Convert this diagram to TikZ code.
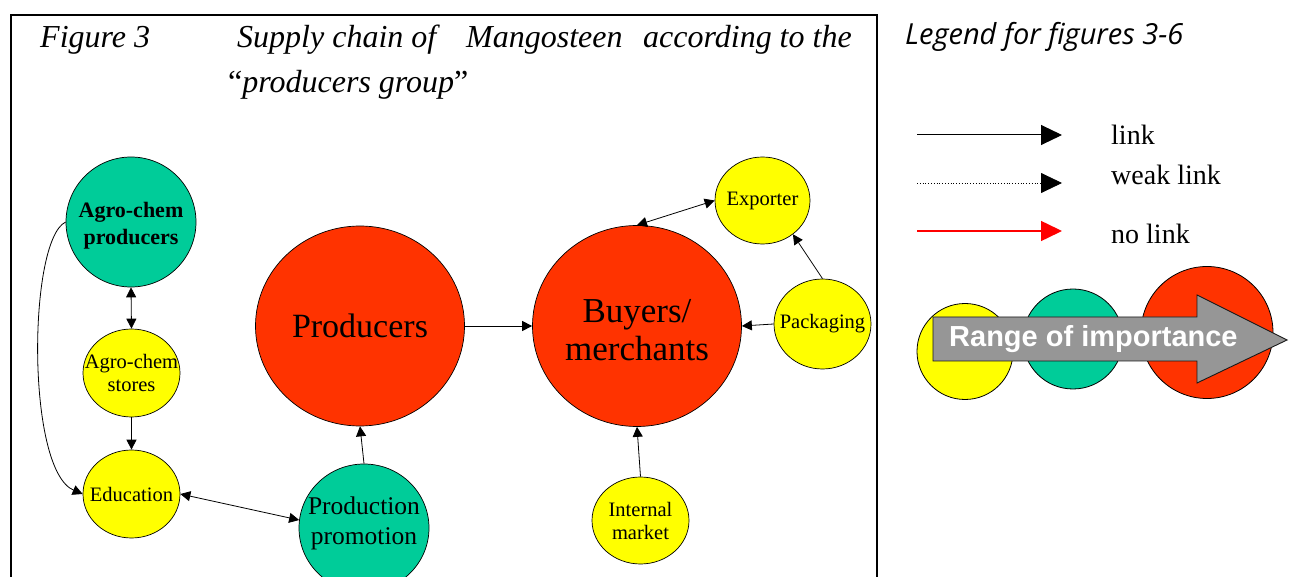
\documentclass[tikz,border=0pt]{standalone}
\usepackage{fontspec}
\setmainfont{Liberation Serif}
\newfontfamily\legendfont{Open Sans}
\newfontfamily\arialfont{Liberation Sans}
\usetikzlibrary{shapes.geometric,arrows.meta}

\definecolor{cred}{HTML}{FF3300}
\definecolor{cgreen}{HTML}{00CC99}
\definecolor{cyellow}{HTML}{FFFF00}
\definecolor{cgray}{HTML}{969696}

\tikzset{
  blob/.style={ellipse, draw=black, line width=0.7pt, inner sep=0pt, text=black},
  inner/.style={align=center, inner sep=0pt, text=black},
  smallblob/.style={blob, fill=cyellow, minimum width=97pt, minimum height=88pt},
  smalltext/.style={inner, font=\fontsize{20.5}{23}\selectfont},
  link/.style={line width=0.8pt, -{Triangle[length=10pt,width=10pt]}},
  twolink/.style={line width=0.8pt, {Triangle[length=10pt,width=10pt]}-{Triangle[length=10pt,width=10pt]}},
  titletext/.style={anchor=base west, inner sep=0pt, font=\fontsize{32}{36}\selectfont\itshape},
  legtext/.style={anchor=base west, inner sep=0pt, font=\fontsize{28}{32}\selectfont},
  legarrow/.style={line width=1pt, -{Triangle[length=21pt,width=20pt]}},
}

\begin{document}
\begin{tikzpicture}[x=1pt,y=-1pt]
\useasboundingbox (0,0) rectangle (1294,577);
\fill[white] (0,0) rectangle (1294,577);

% frame around the chart (open at the bottom)
\draw[line width=2pt] (11,577) -- (11,15.5) -- (877,15.5) -- (877,577);

% caption
\node[titletext] (t1) at (40,48) {Figure 3};
\node[titletext] (t2) at (237,48) {Supply chain of};
\node[titletext] (t3) at (466,48) {Mangosteen};
\node[titletext] (t4) at (643,48) {according to the};
\node[titletext] (t5) at (228,93) {{\upshape “}producers group{\upshape ”}};

% actors (the shapes keep their own size; the text sits on top as a label)
\node[blob, fill=cgreen, minimum width=130pt, minimum height=130pt,
      label={[inner, font=\fontsize{22}{27}\selectfont\bfseries, yshift=-4pt]center:Agro-chem\\producers}] (ap) at (131,222) {};
\node[smallblob, label={[smalltext]center:Agro-chem\\stores}] (st) at (131.5,373) {};
\node[smallblob, label={[smalltext]center:Education}] (edu) at (131.5,494) {};
\node[blob, fill=cgreen, minimum width=130pt, minimum height=128pt,
      label={[inner, font=\fontsize{25.5}{30}\selectfont, yshift=5pt]center:Production\\promotion}] (prom) at (364,528) {};
\node[blob, fill=cred, minimum width=209pt, minimum height=200pt,
      label={[inner, font=\fontsize{34}{38}\selectfont]center:Producers}] (prod) at (360,326) {};
\node[blob, fill=cred, minimum width=209pt, minimum height=201pt,
      label={[inner, font=\fontsize{35}{38}\selectfont, yshift=-4pt]center:Buyers/\\merchants}] (buy) at (637,326) {};
\node[smallblob, minimum width=95pt, minimum height=87pt,
      label={[smalltext]center:Exporter}] (exp) at (762.5,200.5) {};
\node[smallblob, minimum height=90pt, label={[smalltext]center:Packaging}] (pack) at (822.5,324) {};
\node[smallblob, minimum height=87pt, label={[smalltext]center:Internal\\market}] (int) at (640.5,520.5) {};

% links
\draw[twolink] (ap.south) -- (st.north);
\draw[link] (st.south) -- (edu.north);
\draw[link] (ap.west) .. controls (28,240) and (26,470) .. (edu.west);
\draw[twolink] (edu.east) -- (prom.173);
\draw[link] (prom.north) -- (prod.south);
\draw[link] (prod.east) -- (buy.west);
\draw[twolink] (buy.north) -- (exp.west);
\draw[link] (pack.north) -- (exp.-48);
\draw[link] (pack.west) -- (buy.east);
\draw[link] (int.north) -- (buy.south);

% legend
\node[anchor=base west, inner sep=0pt, font=\fontsize{29}{32}\selectfont\legendfont\itshape]
  (lt) at (905,45) {Legend for figures 3-6};

\coordinate (l1a) at (917,135);   \coordinate (l1b) at (1062,135);
\coordinate (l2a) at (917,183);   \coordinate (l2b) at (1062,183);
\coordinate (l3a) at (917,231);   \coordinate (l3b) at (1062,231);
\draw[legarrow] (l1a) -- (l1b);
\draw[legarrow, line width=0.8pt, dotted] (l2a) -- (l2b);
\draw[legarrow, red, line width=1.5pt] (l3a) -- (l3b);
\node[legtext] (lk) at (1111,145) {link};
\node[legtext] (wl) at (1111,185) {weak link};
\node[legtext] (nl) at (1111,244) {no link};

% importance scale
\node[circle, draw=black, line width=0.8pt, fill=cyellow, minimum size=96pt, inner sep=0pt] (cy) at (965,351.5) {};
\node[circle, draw=black, line width=0.8pt, fill=cgreen, minimum size=100pt, inner sep=0pt] (cg) at (1073,339) {};
\node[circle, draw=black, line width=0.8pt, fill=cred, minimum size=132pt, inner sep=0pt] (cr) at (1207,332.5) {};
\draw[fill=cgray, draw=black!90, line width=0.9pt]
  (933,317) -- (1197,317) -- (1197,295) -- (1287,340) -- (1197,383) -- (1197,361) -- (933,361) -- cycle;
\node[anchor=base west, inner sep=0pt, text=white, font=\fontsize{29}{32}\selectfont\arialfont\bfseries]
  (rg) at (949,347) {Range of importance};
\end{tikzpicture}
\end{document}
